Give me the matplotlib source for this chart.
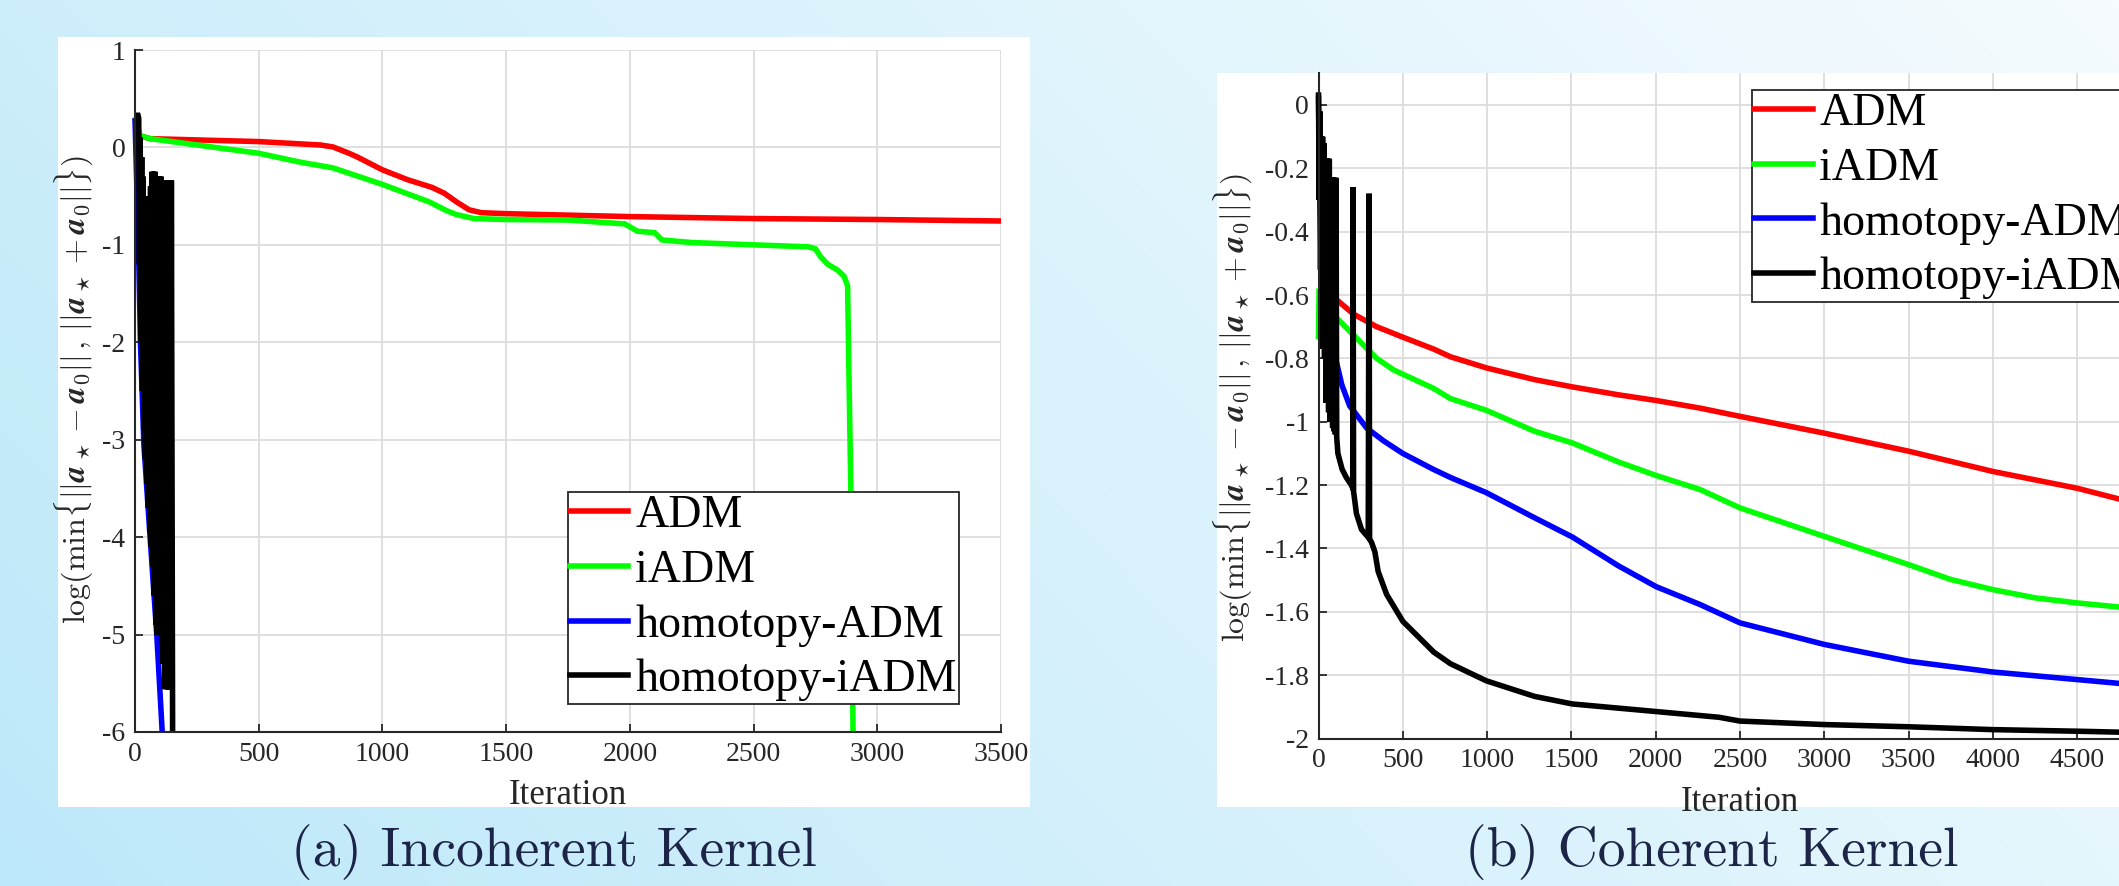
import numpy as np
import matplotlib

matplotlib.use("Agg")
import matplotlib.pyplot as plt
from matplotlib.colors import LinearSegmentedColormap
from matplotlib.lines import Line2D
from matplotlib.patches import Rectangle

plt.rcParams["font.family"] = ["Liberation Serif", "DejaVu Serif"]
plt.rcParams["mathtext.fontset"] = "cm"
plt.rcParams["axes.unicode_minus"] = False

W, H = 2119, 886

labels = ["ADM", "iADM", "homotopy-ADM", "homotopy-iADM"]
colors = ["#ff0000", "#00ff00", "#0000ff", "#000000"]

# ---- (a) incoherent kernel ----
inc_adm_x = [0, 20, 60, 500, 750, 800, 865, 900, 1000, 1100, 1200, 1250, 1300, 1350,
             1400, 1500, 2000, 2500, 3000, 3500]
inc_adm_y = [0.30, 0.12, 0.09, 0.06, 0.025, 0.005, -0.06, -0.10, -0.23, -0.33, -0.41,
             -0.47, -0.56, -0.64, -0.67, -0.68, -0.71, -0.73, -0.74, -0.755]

inc_iadm_x = [0, 20, 61, 500, 665, 800, 1000, 1190, 1260, 1300, 1370, 1500, 1750, 1980,
              2030, 2100, 2130, 2250, 2500, 2720, 2750, 2770, 2800, 2840, 2865, 2880,
              2886, 2893, 2902]
inc_iadm_y = [0.31, 0.12, 0.09, -0.06, -0.15, -0.21, -0.38, -0.56, -0.65, -0.69, -0.73,
              -0.74, -0.745, -0.785, -0.86, -0.875, -0.95, -0.976, -1.0, -1.02, -1.04,
              -1.12, -1.2, -1.26, -1.32, -1.42, -2.4, -3.5, -6.0]

inc_hadm_x = [0, 14, 22, 36, 61, 88, 110]
inc_hadm_y = [0.30, -1.0, -2.0, -3.05, -4.0, -5.0, -6.0]

inc_hiadm_head_x = [0, 12]
inc_hiadm_head_y = [0.33, 0.33]
inc_hiadm_peak_x = [15, 21, 27, 33, 39, 45, 51, 57, 63, 69, 75, 81, 87, 93, 99, 105,
                    111, 117, 123, 129, 135, 141, 147]
inc_hiadm_peak_y = [0.30, 0.10, -0.10, -0.30, -0.50, -0.52, -0.52, -0.52, -0.40, -0.25,
                    -0.25, -0.25, -0.45, -0.30, -0.30, -0.30, -0.50, -0.36, -0.34,
                    -0.34, -0.34, -0.34, -0.34]
inc_hiadm_trough_x = [18, 24, 30, 36, 42, 48, 54, 60, 66, 72, 78, 84, 90, 96, 102, 108,
                      114, 120, 126, 132, 138, 144, 152]
inc_hiadm_trough_y = [-1.2, -2.0, -2.5, -2.9, -3.2, -3.45, -3.7, -3.95, -4.1, -4.3,
                      -4.6, -4.9, -5.0, -5.0, -5.0, -5.1, -5.3, -5.56, -5.56, -5.56,
                      -5.56, -5.56, -6.0]
inc_hiadm_tail_x = []
inc_hiadm_tail_y = []

inc_xticks = [0, 500, 1000, 1500, 2000, 2500, 3000, 3500]
inc_yticks = [-6, -5, -4, -3, -2, -1, 0, 1]
inc_yticklabels = ["-6", "-5", "-4", "-3", "-2", "-1", "0", "1"]

# ---- (b) coherent kernel ----
coh_adm_x = [0, 50, 108, 207, 345, 500, 680, 783, 996, 1281, 1506, 1779, 2004, 2263,
             2500, 3000, 3500, 4000, 4500, 4749, 5000]
coh_adm_y = [-0.59, -0.60, -0.615, -0.66, -0.70, -0.733, -0.77, -0.795, -0.83, -0.867,
             -0.89, -0.915, -0.933, -0.957, -0.983, -1.036, -1.093, -1.157, -1.21,
             -1.244, -1.28]

coh_iadm_x = [0, 3, 50, 108, 207, 345, 444, 500, 680, 783, 996, 1281, 1506, 1779, 2004,
              2263, 2500, 3000, 3500, 3750, 4000, 4250, 4500, 4749, 5000]
coh_iadm_y = [-0.74, -0.60, -0.63, -0.673, -0.726, -0.80, -0.836, -0.85, -0.894, -0.927,
              -0.964, -1.03, -1.067, -1.127, -1.17, -1.214, -1.272, -1.362, -1.451,
              -1.498, -1.53, -1.556, -1.572, -1.585, -1.595]

coh_hadm_x = [0, 5, 15, 40, 80, 108, 138, 185, 286, 385, 500, 680, 783, 996, 1281, 1506,
              1779, 2004, 2263, 2500, 3000, 3500, 4000, 4500, 4749, 5000]
coh_hadm_y = [0.03, -0.2, -0.5, -0.7, -0.77, -0.815, -0.883, -0.95, -1.02, -1.06, -1.10,
              -1.15, -1.176, -1.224, -1.303, -1.364, -1.455, -1.521, -1.577, -1.635,
              -1.703, -1.756, -1.79, -1.814, -1.826, -1.835]

coh_hiadm_head_x = []
coh_hiadm_head_y = []
coh_hiadm_peak_x = [0, 8, 16, 24, 32, 40, 48, 56, 64, 72, 80, 88, 96, 104]
coh_hiadm_peak_y = [0.04, -0.02, -0.10, -0.10, -0.12, -0.17, -0.17, -0.17, -0.17,
                    -0.23, -0.23, -0.23, -0.23, -0.23]
coh_hiadm_trough_x = [4, 12, 20, 28, 36, 44, 52, 60, 68, 76, 84, 92, 100, 108]
coh_hiadm_trough_y = [-0.30, -0.52, -0.77, -0.77, -0.80, -0.94, -0.94, -0.97, -1.0,
                      -1.0, -1.02, -1.03, -1.04, -1.05]
coh_hiadm_tail_x = [115, 140, 165, 195, 203, 205, 208, 225, 255, 295, 300, 303, 314, 334,
                    354, 404, 500, 683, 783, 996, 1281, 1506, 2004, 2376, 2500, 3000,
                    3500, 4000, 4500, 5000]
coh_hiadm_tail_y = [-1.10, -1.15, -1.176, -1.20, -1.21, -0.26, -1.22, -1.29, -1.34,
                    -1.365, -0.28, -1.37, -1.38, -1.41, -1.473, -1.545, -1.63, -1.727,
                    -1.764, -1.818, -1.867, -1.891, -1.915, -1.933, -1.945, -1.956,
                    -1.963, -1.972, -1.977, -1.983]

coh_xticks = [0, 500, 1000, 1500, 2000, 2500, 3000, 3500, 4000, 4500]
coh_yticks = [-2, -1.8, -1.6, -1.4, -1.2, -1, -0.8, -0.6, -0.4, -0.2, 0]
coh_yticklabels = ["-2", "-1.8", "-1.6", "-1.4", "-1.2", "-1", "-0.8", "-0.6", "-0.4",
                   "-0.2", "0"]

ylabel = (r"$\log(\min\{||\mathbfit{a}_\star - \mathbfit{a}_0||\,,\,"
          r"||\mathbfit{a}_\star + \mathbfit{a}_0||\})$")


def zigzag(head_x, head_y, peak_x, peak_y, trough_x, trough_y, tail_x, tail_y):
    xs, ys = list(head_x), list(head_y)
    for px, py, tx, ty in zip(peak_x, peak_y, trough_x, trough_y):
        xs += [px, tx]
        ys += [py, ty]
    return xs + list(tail_x), ys + list(tail_y)


def px_box(x0, y0, x1, y1):
    return [x0 / W, 1 - y1 / H, (x1 - x0) / W, (y1 - y0) / H]


def style_axes(ax, xlim, ylim, xticks, yticks, yticklabels):
    ax.set_xlim(*xlim)
    ax.set_ylim(*ylim)
    ax.set_xticks(xticks)
    ax.set_yticks(yticks)
    ax.set_yticklabels(yticklabels)
    ax.set_facecolor("none")
    ax.grid(True, color="#dcdcdc", linewidth=1.3)
    ax.set_axisbelow(True)
    for side in ["top", "right"]:
        ax.spines[side].set_visible(False)
    for side in ["left", "bottom"]:
        ax.spines[side].set_color("#262626")
        ax.spines[side].set_linewidth(1.5)
    ax.tick_params(direction="in", length=6, width=1.3, colors="#262626",
                   labelsize=20, pad=7)


def draw_panel(ax, series, legend_anchor):
    # MATLAB does not trim the stroke at the axes edge, so no clipping here
    for (xs, ys), color in zip(series, colors):
        ax.plot(xs, ys, color=color, linewidth=4.0, solid_joinstyle="miter",
                solid_capstyle="butt", clip_on=False)
    handles = [Line2D([], [], color=c, linewidth=4.0) for c in colors]
    leg = ax.legend(handles, labels, loc="upper left", bbox_to_anchor=legend_anchor,
                    bbox_transform=fig.transFigure, prop={"size": 33},
                    fancybox=False, framealpha=1, edgecolor="#262626",
                    borderpad=0.05, labelspacing=0.27, handlelength=1.27,
                    handletextpad=0.15, borderaxespad=0)
    leg.get_frame().set_linewidth(1.3)
    leg.set_zorder(5)
    ax.set_xlabel("Iteration", fontsize=25, color="#262626", labelpad=9)


fig = plt.figure(figsize=(W / 100, H / 100), dpi=100)

# slide background
bg = fig.add_axes([0, 0, 1, 1], zorder=-10)
gx, gy = np.meshgrid(np.linspace(0, 1, 400), np.linspace(1, 0, 200))
shade = np.clip(0.72 * gx + 0.28 * gy, 0, 1)
bg_cmap = LinearSegmentedColormap.from_list("slide", ["#bde8f9", "#d9f2fc", "#f5fbfe"])
bg.imshow(shade, cmap=bg_cmap, aspect="auto", extent=[0, 1, 0, 1],
          interpolation="bilinear")
bg.axis("off")

for box in [(58, 37, 1030, 807), (1217, 73, 2119, 807)]:
    x0, y0, w, h = px_box(*box)
    fig.add_artist(Rectangle((x0, y0), w, h, transform=fig.transFigure,
                             facecolor="white", edgecolor="none", zorder=-5))

ax1 = fig.add_axes(px_box(135, 50, 1001, 732))
style_axes(ax1, (0, 3500), (-6, 1), inc_xticks, inc_yticks, inc_yticklabels)
draw_panel(ax1, [
    (inc_adm_x, inc_adm_y),
    (inc_iadm_x, inc_iadm_y),
    (inc_hadm_x, inc_hadm_y),
    zigzag(inc_hiadm_head_x, inc_hiadm_head_y, inc_hiadm_peak_x, inc_hiadm_peak_y,
           inc_hiadm_trough_x, inc_hiadm_trough_y, inc_hiadm_tail_x, inc_hiadm_tail_y),
], (568 / W, 1 - 492 / H))

ax2 = fig.add_axes(px_box(1318.5, 73.3, 2161.5, 738.5))
style_axes(ax2, (0, 5000), (-2, 0.1), coh_xticks, coh_yticks, coh_yticklabels)
draw_panel(ax2, [
    (coh_adm_x, coh_adm_y),
    (coh_iadm_x, coh_iadm_y),
    (coh_hadm_x, coh_hadm_y),
    zigzag(coh_hiadm_head_x, coh_hiadm_head_y, coh_hiadm_peak_x, coh_hiadm_peak_y,
           coh_hiadm_trough_x, coh_hiadm_trough_y, coh_hiadm_tail_x, coh_hiadm_tail_y),
], (1752 / W, 1 - 90 / H))

fig.text(74 / W, 1 - 390 / H, ylabel, rotation=90, ha="center", va="center",
         fontsize=23, color="#262626")
fig.text(1233 / W, 1 - 408 / H, ylabel, rotation=90, ha="center", va="center",
         fontsize=23, color="#262626")

fig.text(554 / W, 1 - 852 / H, "(a) Incoherent Kernel", fontfamily="cmr10",
         fontsize=40, ha="center", va="center", color="#1c2547")
fig.text(1712 / W, 1 - 852 / H, "(b) Coherent Kernel", fontfamily="cmr10",
         fontsize=40, ha="center", va="center", color="#1c2547")

fig.savefig("out.png", dpi=100)
